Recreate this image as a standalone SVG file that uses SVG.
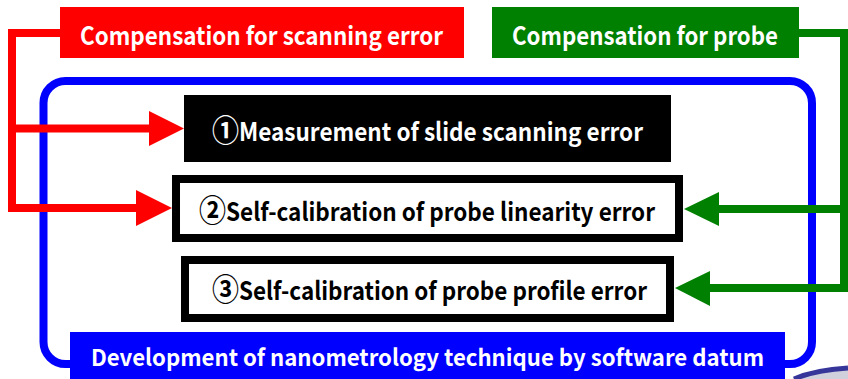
<svg xmlns="http://www.w3.org/2000/svg" width="848" height="379" viewBox="0 0 848 379">
<style>
text{font-family:"Noto Sans CJK JP","Liberation Sans",sans-serif;font-weight:bold;font-size:25px}
.w{fill:#ffffff}
.k{fill:#000000}
.big{font-size:30px}
.sm{font-size:23px}
.red{stroke:#ff0000;stroke-width:8;fill:none}
.grn{stroke:#008000;stroke-width:8;fill:none}
</style>
<rect width="848" height="379" fill="#ffffff"/>
<g id="frame">
<rect x="43.5" y="81" width="768.5" height="283" rx="22" ry="22" fill="none" stroke="#0000ff" stroke-width="8"/>
</g>
<g id="comp-scan">
<rect x="60" y="7" width="404" height="51" fill="#ff0000"/>
<text class="w" x="80" y="45" textLength="363" lengthAdjust="spacingAndGlyphs">Compensation for scanning error</text>
</g>
<g id="comp-probe">
<rect x="492" y="7" width="307" height="51" fill="#008000"/>
<text class="w" x="512" y="45" textLength="266" lengthAdjust="spacingAndGlyphs">Compensation for probe</text>
</g>
<g id="step1">
<rect x="184" y="95" width="487" height="67" fill="#000000"/>
<text class="w" x="212" y="141" textLength="431" lengthAdjust="spacingAndGlyphs"><tspan class="big">①</tspan>Measurement of slide scanning error</text>
</g>
<g id="step2">
<rect x="176" y="179" width="503" height="59" fill="#ffffff" stroke="#000000" stroke-width="8"/>
<text class="k" x="199" y="221" textLength="456" lengthAdjust="spacingAndGlyphs"><tspan class="big">②</tspan>Self-calibration of probe linearity error</text>
</g>
<g id="step3">
<rect x="185" y="260" width="485" height="58" fill="#ffffff" stroke="#000000" stroke-width="8"/>
<text class="k" x="212" y="300" textLength="435" lengthAdjust="spacingAndGlyphs"><tspan class="big">③</tspan>Self-calibration of probe profile error</text>
</g>
<g id="development">
<rect x="70" y="332" width="715" height="48" fill="#0000ff"/>
<text class="w sm" x="91" y="366" textLength="673" lengthAdjust="spacingAndGlyphs">Development of nanometrology technique by software datum</text>
</g>
<g id="logo-fragment">
<path d="M792,379 Q815,369 848,368 L848,379 Z" fill="#d0d0dc"/>
<path d="M794,379 Q815,370 848,368" fill="none" stroke="#35359a" stroke-width="5"/>
</g>
<g id="connectors">
<path class="red" d="M60,33 H12 V208 H140"/>
<path class="red" d="M12,128.5 H152"/>
<polygon points="149,111 184,128.5 149,146" fill="#ff0000"/>
<polygon points="136,190 172,208 136,226" fill="#ff0000"/>
<path class="grn" d="M799,33 H844 V288 H708"/>
<path class="grn" d="M844,209 H716"/>
<polygon points="719,192 684,209 719,226" fill="#008000"/>
<polygon points="710,271 675,288 710,306" fill="#008000"/>
</g>
</svg>
